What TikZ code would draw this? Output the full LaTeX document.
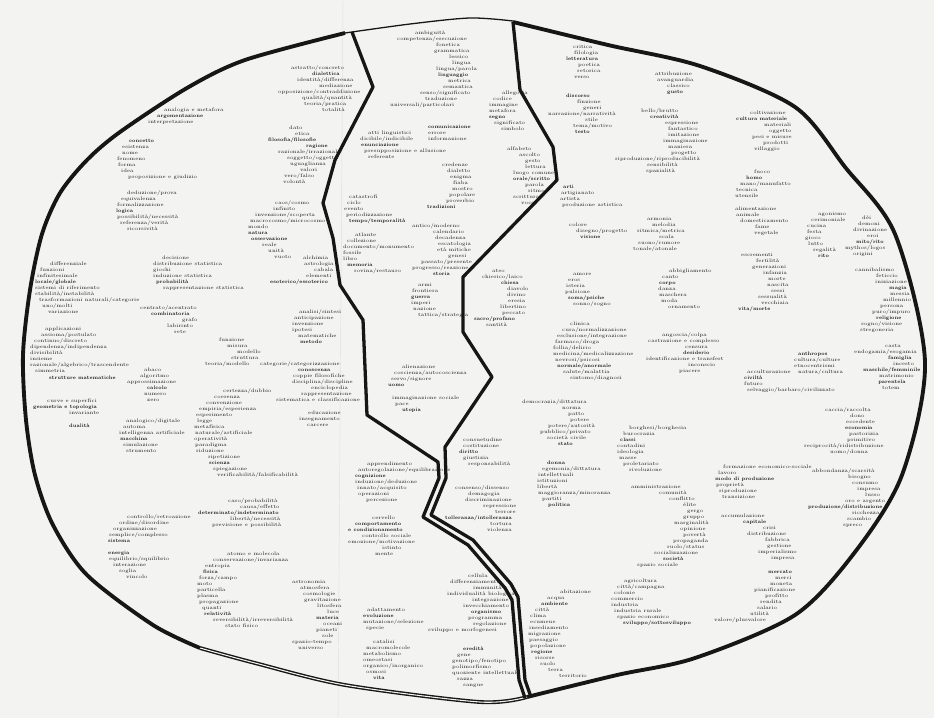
\documentclass[tikz,border=0pt]{standalone}
\usepackage{graphicx}
\definecolor{carta}{RGB}{243,243,241}
\definecolor{inchiostro}{RGB}{22,22,22}
\newdimen\pxu \pxu=0.03cm
\newcommand{\ri}[1]{\hspace*{#1\pxu}}
\newcommand{\lem}[1]{\scalebox{0.88}[1]{\bfseries #1}}
\tikzset{
  lemma/.style={font=\fontsize{4.3}{5.12}\selectfont, inner sep=0pt,
    align=left, anchor=north west, text=inchiostro},
  bordo/.style={inchiostro, line width=3.3pt, line join=round},
  confine/.style={inchiostro, line width=2.8pt, line join=round},
}
\begin{document}
\begin{tikzpicture}[x=0.03cm, y=-0.03cm]
  \useasboundingbox (0,0) rectangle (934,718);
  \fill[carta] (0,0) rectangle (934,718);
  \draw[black!12, line width=0.4pt] (343,0) -- (338,718); % piega

  % filosofia, logica, matematica
  \node[lemma] (argomentazione) at (148,108) {\ri{16}analogia e metafora\\\ri{9}\lem{argomentazione}\\interpretazione};
  \node[lemma] (concetto) at (117,139) {\ri{12}\lem{concetto}\\\ri{5}esistenza\\\ri{5}nome\\fenomeno\\\ri{1}forma\\\ri{4}idea\\\ri{11}proposizione e giudizio};
  \node[lemma] (logica) at (116,190) {\ri{11}deduzione/prova\\\ri{5}equivalenza\\\ri{1}formalizzazione\\\lem{logica}\\\ri{1}possibilità/necessità\\\ri{4}referenza/verità\\\ri{11}ricorsività};
  \node[lemma] (dialettica) at (278,65) {\ri{13}astratto/concreto\\\ri{34}\lem{dialettica}\\\ri{19}identità/differenza\\\ri{41}mediazione\\opposizione/contraddizione\\\ri{24}qualità/quantità\\\ri{26}teoria/pratica\\\ri{44}totalità};
  \node[lemma] (filosofia) at (268,126) {\ri{21}dato\\\ri{27}etica\\\lem{filosofia/filosofie}\\\ri{38}\lem{ragione}\\\ri{10}razionale/irrazionale\\\ri{19}soggetto/oggetto\\\ri{22}uguaglianza\\\ri{32}valori\\\ri{16}vero/falso\\\ri{15}volontà};
  \node[lemma] (natura) at (248,200) {\ri{27}caos/cosmo\\\ri{25}infinito\\\ri{7}invenzione/scoperta\\\ri{2}macrocosmo/microcosmo\\mondo\\\lem{natura}\\\ri{3}\lem{osservazione}\\\ri{14}reale\\\ri{20}unità\\\ri{26}vuoto};
  \node[lemma] (esoterico) at (270,256) {\ri{33}alchimia\\\ri{34}astrologia\\\ri{44}cabala\\\ri{36}elementi\\\lem{esoterico/essoterico}};
  \node[lemma] (metodo) at (292,309) {\ri{7}analisi/sintesi\\\ri{2}anticipazione\\invenzione\\ipotesi\\\ri{6}matematiche\\\ri{8}\lem{metodo}};
  \node[lemma] (conoscenza) at (260,361) {categorie/categorizzazione\\\ri{38}\lem{conoscenza}\\\ri{33}coppie filosofiche\\\ri{32}disciplina/discipline\\\ri{51}enciclopedia\\\ri{41}rappresentazione\\\ri{16}sistematica e classificazione};
  \node[lemma] (educazione) at (299,411) {\ri{9}educazione\\insegnamento\\\ri{8}carcere};
  \node[lemma] (funzione) at (205,338) {\ri{14}funzione\\\ri{22}misura\\\ri{32}modello\\\ri{26}struttura\\teoria/modello};
  \node[lemma] (scienza) at (194,388) {\ri{29}certezza/dubbio\\\ri{20}coerenza\\\ri{12}convenzione\\\ri{5}empiria/esperienza\\\ri{2}esperimento\\\ri{3}legge\\metafisica\\\ri{1}naturale/artificiale\\operatività\\\ri{1}paradigma\\\ri{2}riduzione\\\ri{14}ripetizione\\\ri{15}\lem{scienza}\\\ri{19}spiegazione\\\ri{23}verificabilità/falsificabilità};
  \node[lemma] (calcolo) at (127,368) {\ri{17}abaco\\\ri{13}algoritmo\\approssimazione\\\ri{20}\lem{calcolo}\\\ri{17}numero\\\ri{20}zero};
  \node[lemma] (macchina) at (119,418) {\ri{7}analogico/digitale\\\ri{4}automa\\intelligenza artificiale\\\ri{1}\lem{macchina}\\\ri{4}simulazione\\\ri{7}strumento};
  \node[lemma] (geometria) at (33,399) {\ri{14}curve e superfici\\\lem{geometria e topologia}\\\ri{36}invariante};
  \node[lemma] (dualita) at (69,424) {\lem{dualità}};
  \node[lemma] (strutture) at (30,327) {\ri{15}applicazioni\\\ri{11}assioma/postulato\\\ri{4}continuo/discreto\\dipendenza/indipendenza\\divisibilità\\insieme\\razionale/algebrico/trascendente\\\ri{5}simmetria\\[1pt]\ri{19}\lem{strutture matematiche}};
  \node[lemma] (locale) at (35,262) {\ri{15}differenziale\\\ri{5}funzioni\\\ri{2}infinitesimale\\\lem{locale/globale}\\sistemi di riferimento\\stabilità/instabilità\\\ri{4}trasformazioni naturali/categorie\\\ri{7}uno/molti\\\ri{13}variazione};
  \node[lemma] (probabilita) at (153,256) {\ri{9}decisione\\distribuzione statistica\\giochi\\induzione statistica\\\ri{3}\lem{probabilità}\\\ri{10}rappresentazione statistica};
  \node[lemma] (combinatoria) at (140,305) {centrato/acentrato\\\ri{11}\lem{combinatoria}\\\ri{42}grafo\\\ri{27}labirinto\\\ri{34}rete};

  % fisica, sistemi
  \node[lemma] (sistema) at (108,514) {\ri{19}controllo/retroazione\\\ri{11}ordine/disordine\\\ri{5}organizzazione\\\ri{1}semplice/complesso\\\lem{sistema}};
  \node[lemma] (energia) at (108,551) {\lem{energia}\\\ri{1}equilibrio/squilibrio\\\ri{5}interazione\\\ri{11}soglia\\\ri{18}vincolo};
  \node[lemma] (determinato) at (198,498) {\ri{30}caso/probabilità\\\ri{42}causa/effetto\\\lem{determinato/indeterminato}\\\ri{32}libertà/necessità\\\ri{14}previsione e possibilità};
  \node[lemma] (fisica) at (197,552) {\ri{30}atomo e molecola\\\ri{16}conservazione/invarianza\\\ri{8}entropia\\\ri{6}\lem{fisica}\\\ri{2}forza/campo\\moto\\particella\\plasma\\\ri{2}propagazione\\\ri{5}quanti\\\ri{7}\lem{relatività}\\\ri{16}reversibilità/irreversibilità\\\ri{28}stato fisico};
  \node[lemma] (materia) at (292,580) {astronomia\\\ri{8}atmosfera\\\ri{11}cosmologie\\\ri{12}gravitazione\\\ri{25}litosfera\\\ri{35}luce\\\ri{24}\lem{materia}\\\ri{31}oceani\\\ri{24}pianeti\\\ri{30}sole\\spazio-tempo\\\ri{6}universo};

  % linguaggio, storia
  \node[lemma] (linguaggio) at (390,31) {\ri{25}ambiguità\\\ri{7}competenza/esecuzione\\\ri{46}fonetica\\\ri{44}grammatica\\\ri{59}lessico\\\ri{62}lingua\\\ri{46}lingua/parola\\\ri{48}\lem{linguaggio}\\\ri{58}metrica\\\ri{53}semantica\\\ri{30}senso/significato\\\ri{35}traduzione\\universali/particolari};
  \node[lemma] (comunicazione) at (428,125) {\lem{comunicazione}\\errore\\informazione};
  \node[lemma] (enunciazione) at (360,131) {\ri{8}atti linguistici\\dicibile/indicibile\\\ri{1}\lem{enunciazione}\\\ri{4}presupposizione e allusione\\\ri{8}referente};
  \node[lemma] (tradizioni) at (427,163) {\ri{15}credenze\\\ri{20}dialetto\\\ri{23}enigma\\\ri{26}fiaba\\\ri{25}mostro\\\ri{22}popolare\\\ri{19}proverbio\\\lem{tradizioni}};
  \node[lemma] (tempo) at (344,195) {\ri{5}catastrofi\\\ri{3}ciclo\\evento\\\ri{2}periodizzazione\\\ri{5}\lem{tempo/temporalità}};
  \node[lemma] (memoria) at (343,233) {\ri{12}atlante\\\ri{4}collezione\\documento/monumento\\fossile\\libro\\\ri{4}\lem{memoria}\\\ri{11}rovina/restauro};
  \node[lemma] (storia) at (412,223) {antico/moderno\\\ri{21}calendario\\\ri{23}decadenza\\\ri{26}escatologia\\\ri{25}età mitiche\\\ri{36}genesi\\\ri{9}passato/presente\\progresso/reazione\\\ri{21}\lem{storia}};
  \node[lemma] (guerra) at (411,283) {\ri{7}armi\\\ri{1}frontiera\\\lem{guerra}\\imperi\\\ri{2}nazione\\\ri{7}tattica/strategia};
  \node[lemma] (uomo) at (388,365) {\ri{14}alienazione\\\ri{6}coscienza/autocoscienza\\\ri{3}servo/signore\\\lem{uomo}};
  \node[lemma] (utopia) at (392,396) {immaginazione sociale\\\ri{3}pace\\\ri{10}\lem{utopia}};
  \node[lemma] (segno) at (489,91) {\ri{13}allegoria\\\ri{4}codice\\immagine\\metafora\\\lem{segno}\\\ri{5}significato\\\ri{12}simbolo};
  \node[lemma] (orale) at (507,147) {alfabeto\\\ri{12}ascolto\\\ri{18}gesto\\\ri{18}lettura\\\ri{6}luogo comune\\\ri{6}\lem{orale/scritto}\\\ri{18}parola\\\ri{21}ritmo\\\ri{6}scrittura\\\ri{14}voce};

  % arti, religione, psiche
  \node[lemma] (sacro) at (474,269) {\ri{18}ateo\\\ri{8}chierico/laico\\\ri{27}\lem{chiesa}\\\ri{33}diavolo\\\ri{33}divino\\\ri{34}eresia\\\ri{26}libertino\\\ri{28}peccato\\\lem{sacro/profano}\\\ri{12}santità};
  \node[lemma] (arti) at (560,185) {\ri{3}\lem{arti}\\\ri{1}artigianato\\artista\\\ri{2}produzione artistica};
  \node[lemma] (letteratura) at (566,45) {\ri{7}critica\\\ri{8}filologia\\\lem{letteratura}\\\ri{12}poetica\\\ri{11}retorica\\\ri{8}verso};
  \node[lemma] (discorso) at (548,94) {\ri{18}\lem{discorso}\\\ri{29}finzione\\\ri{35}generi\\narrazione/narratività\\\ri{37}stile\\\ri{25}tema/motivo\\\ri{27}\lem{testo}};
  \node[lemma] (gusto) at (655,72) {attribuzione\\\ri{2}avanguardia\\\ri{12}classico\\\ri{12}\lem{gusto}};
  \node[lemma] (creativita) at (615,108) {\ri{26}bello/brutto\\\ri{35}\lem{creatività}\\\ri{50}espressione\\\ri{53}fantastico\\\ri{53}imitazione\\\ri{48}immaginazione\\\ri{53}maniera\\\ri{56}progetto\\riproduzione/riproducibilità\\\ri{32}sensibilità\\\ri{31}spazialità};
  \node[lemma] (visione) at (569,223) {colore\\\ri{7}disegno/progetto\\\ri{11}\lem{visione}};
  \node[lemma] (armonia) at (633,217) {\ri{14}armonia\\\ri{19}melodia\\\ri{4}ritmica/metrica\\\ri{26}scala\\\ri{5}suono/rumore\\tonale/atonale};
  \node[lemma] (psiche) at (565,273) {\ri{8}amore\\\ri{3}eros\\\ri{1}isteria\\pulsione\\\ri{3}\lem{soma/psiche}\\\ri{8}sonno/sogno};
  \node[lemma] (corpo) at (658,269) {\ri{11}abbigliamento\\\ri{4}canto\\\ri{1}\lem{corpo}\\danza\\\ri{1}maschera\\\ri{3}moda\\\ri{10}ornamento};
  \node[lemma] (normale) at (553,322) {\ri{17}clinica\\\ri{9}cura/normalizzazione\\\ri{4}esclusione/integrazione\\\ri{2}farmaco/droga\\follia/delirio\\medicina/medicalizzazione\\\ri{2}nevrosi/psicosi\\\ri{4}\lem{normale/anormale}\\\ri{10}salute/malattia\\\ri{17}sintomo/diagnosi};
  \node[lemma] (desiderio) at (646,332) {\ri{16}angoscia/colpa\\\ri{2}castrazione e complesso\\\ri{39}censura\\\ri{37}\lem{desiderio}\\identificazione e transfert\\\ri{42}inconscio\\\ri{33}piacere};

  % politica, societa
  \node[lemma] (stato) at (522,399) {democrazia/dittatura\\\ri{40}norma\\\ri{46}patto\\\ri{48}potere\\\ri{26}potere/autorità\\\ri{18}pubblico/privato\\\ri{25}società civile\\\ri{36}\lem{stato}};
  \node[lemma] (classi) at (617,425) {\ri{12}borghesi/borghesia\\\ri{6}burocrazia\\\ri{3}\lem{classi}\\contadini\\ideologia\\\ri{2}masse\\\ri{6}proletariato\\\ri{12}rivoluzione};
  \node[lemma] (diritto) at (459,438) {\ri{4}consuetudine\\\ri{4}costituzione\\\lem{diritto}\\\ri{4}giustizia\\\ri{9}responsabilità};
  \node[lemma] (politica) at (537,461) {\ri{10}\lem{donna}\\\ri{5}egemonia/dittatura\\\ri{1}intellettuali\\istituzioni\\libertà\\\ri{1}maggioranza/minoranza\\\ri{5}partiti\\\ri{11}\lem{politica}};
  \node[lemma] (tolleranza) at (445,485) {\ri{10}consenso/dissenso\\\ri{23}demagogia\\\ri{20}discriminazione\\\ri{38}repressione\\\ri{50}terrore\\\lem{tolleranza/intolleranza}\\\ri{45}tortura\\\ri{42}violenza};
  \node[lemma] (societa) at (631,485) {amministrazione\\\ri{28}comunità\\\ri{38}conflitto\\\ri{52}élite\\\ri{56}gergo\\\ri{52}gruppo\\\ri{43}marginalità\\\ri{49}opinione\\\ri{52}povertà\\\ri{42}propaganda\\\ri{36}ruolo/status\\\ri{23}socializzazione\\\ri{32}\lem{società}\\\ri{6}spazio sociale};
  \node[lemma] (sviluppo) at (611,579) {\ri{13}agricoltura\\\ri{6}città/campagna\\\ri{3}colonie\\commercio\\industria\\\ri{3}industria rurale\\\ri{6}spazio economico\\\ri{12}\lem{sviluppo/sottosviluppo}};
  \node[lemma] (ambiente) at (528,590) {\ri{32}abitazione\\\ri{19}acqua\\\ri{13}\lem{ambiente}\\\ri{7}città\\\ri{2}clima\\\ri{2}ecumene\\\ri{1}insediamento\\migrazione\\\ri{1}paesaggio\\\ri{2}popolazione\\\ri{3}\lem{regione}\\\ri{7}risorse\\\ri{12}suolo\\\ri{20}terra\\\ri{31}territorio};

  % vita, mente
  \node[lemma] (eredita) at (452,647) {\ri{11}\lem{eredità}\\\ri{5}gene\\genotipo/fenotipo\\polimorfismo\\quoziente intellettuale\\\ri{5}razza\\\ri{11}sangue};
  \node[lemma] (organismo) at (428,574) {\ri{40}cellula\\\ri{22}differenziamento\\\ri{45}immunità\\\ri{19}individualità biologica\\\ri{44}integrazione\\\ri{35}invecchiamento\\\ri{43}\lem{organismo}\\\ri{40}programma\\\ri{45}regolazione\\sviluppo e morfogenesi};
  \node[lemma] (cognizione) at (355,462) {\ri{12}apprendimento\\\ri{3}autoregolazione/equilibrazione\\\lem{cognizione}\\induzione/deduzione\\\ri{2}innato/acquisito\\\ri{3}operazioni\\\ri{11}percezione};
  \node[lemma] (comportamento) at (348,516) {\ri{24}cervello\\\ri{7}\lem{comportamento}\\\lem{e condizionamento}\\\ri{14}controllo sociale\\emozione/motivazione\\\ri{34}istinto\\\ri{27}mente};
  \node[lemma] (evoluzione) at (363,608) {\ri{4}adattamento\\\lem{evoluzione}\\mutazione/selezione\\\ri{3}specie};
  \node[lemma] (vita) at (363,640) {\ri{10}catalisi\\\ri{3}macromolecole\\metabolismo\\omeostasi\\organico/inorganico\\\ri{3}osmosi\\\ri{10}\lem{vita}};

  % antropologia, economia
  \node[lemma] (cultura) at (736,111) {\ri{14}coltivazione\\\lem{cultura materiale}\\\ri{28}materiali\\\ri{33}oggetto\\\ri{16}pesi e misure\\\ri{27}prodotti\\\ri{18}villaggio};
  \node[lemma] (homo) at (735,170) {\ri{19}fuoco\\\ri{11}\lem{homo}\\\ri{5}mano/manufatto\\\ri{1}tecnica\\utensile};
  \node[lemma] (alimentazione) at (735,207) {alimentazione\\\ri{1}animale\\\ri{5}domesticamento\\\ri{20}fame\\\ri{19}vegetale};
  \node[lemma] (rito) at (805,212) {\ri{13}agonismo\\\ri{6}cerimoniale\\\ri{2}cucina\\\ri{2}festa\\gioco\\\ri{3}lutto\\\ri{8}regalità\\\ri{13}\lem{rito}};
  \node[lemma] (mito) at (845,216) {\ri{17}dèi\\\ri{13}demoni\\\ri{8}divinazione\\\ri{22}eroi\\\ri{11}\lem{mito/rito}\\mythos/logos\\\ri{8}origini};
  \node[lemma] (religione) at (855,268) {cannibalismo\\\ri{21}feticcio\\\ri{20}iniziazione\\\ri{34}\lem{magia}\\\ri{35}messia\\\ri{28}millennio\\\ri{25}persona\\\ri{17}puro/impuro\\\ri{21}\lem{religione}\\\ri{6}sogno/visione\\\ri{5}stregoneria};
  \node[lemma] (parentela) at (854,344) {\ri{31}casta\\endogamia/esogamia\\\ri{34}\lem{famiglia}\\\ri{39}incesto\\\ri{9}\lem{maschile/femminile}\\\ri{25}matrimonio\\\ri{24}\lem{parentela}\\\ri{28}totem};
  \node[lemma] (vitamorte) at (738,253) {\ri{3}escrementi\\\ri{18}fertilità\\\ri{14}generazioni\\\ri{25}infanzia\\\ri{30}morte\\\ri{29}nascita\\\ri{33}sessi\\\ri{20}sessualità\\\ri{23}vecchiaia\\\lem{vita/morte}};
  \node[lemma] (anthropos) at (794,352) {\ri{4}\lem{anthropos}\\cultura/culture\\etnocentrismi\\\ri{4}natura/cultura};
  \node[lemma] (civilta) at (744,370) {\ri{3}acculturazione\\\lem{civiltà}\\futuro\\\ri{3}selvaggio/barbaro/civilizzato};
  \node[lemma] (economia) at (804,407) {\ri{21}caccia/raccolta\\\ri{46}dono\\\ri{42}eccedente\\\ri{41}\lem{economia}\\\ri{45}pastorizia\\\ri{43}primitivo\\reciprocità/ridistribuzione\\\ri{26}uomo/donna};
  \node[lemma] (produzione) at (808,468) {\ri{4}abbondanza/scarsità\\\ri{40}bisogno\\\ri{44}consumo\\\ri{49}impresa\\\ri{57}lusso\\\ri{37}oro e argento\\\lem{produzione/distribuzione}\\\ri{44}ricchezza\\\ri{39}scambio\\\ri{35}spreco};
  \node[lemma] (modo) at (715,465) {\ri{8}formazione economico-sociale\\\ri{3}lavoro\\\lem{modo di produzione}\\\ri{1}proprietà\\\ri{4}riproduzione\\\ri{7}transizione};
  \node[lemma] (capitale) at (721,514) {accumulazione\\\ri{22}\lem{capitale}\\\ri{42}crisi\\\ri{26}distribuzione\\\ri{44}fabbrica\\\ri{46}gestione\\\ri{37}imperialismo\\\ri{50}impresa};
  \node[lemma] (mercato) at (714,570) {\ri{54}\lem{mercato}\\\ri{61}merci\\\ri{56}moneta\\\ri{40}pianificazione\\\ri{51}profitto\\\ri{46}rendita\\\ri{43}salario\\\ri{36}utilità\\valore/plusvalore};

  % contorno
  \draw[bordo] plot[smooth] coordinates {(513,22) (608,45) (700,66) (795,107) (845,167) (895,234)
    (925,362) (902,475) (855,552) (795,615) (695,658) (617,675) (527,697)};
  \draw[inchiostro, line width=1.2pt, double=carta, double distance=0.9pt] plot[smooth] coordinates {(527,697) (480,702) (345,685) (255,663) (200,648)};
  \draw[bordo] plot[smooth] coordinates {(200,648) (153,625) (87,575) (53,525) (35,475) (26,420) (23,355)
    (30,290) (42,234) (60,193) (87,160) (120,132) (187,88) (245,60) (345,33)};
  \draw[inchiostro, line width=1.1pt] plot[smooth] coordinates {(345,33) (410,24) (470,18) (513,21)};

  % confini
  \draw[confine] (352,32) -- (373,87) -- (335,160) -- (323,203) -- (333,238) -- (340,285) -- (363,320)
    -- (367,415) -- (438,462) -- (439,478) -- (423,517) -- (468,545) -- (505,588) -- (512,600)
    -- (519,680) -- (525,698);
  \draw[confine] (513,22) -- (520,90) -- (553,147) -- (557,180) -- (463,277) -- (463,332) -- (492,377)
    -- (445,447) -- (446,478) -- (431,515) -- (473,540) -- (511,584) -- (518,597) -- (525,680)
    -- (531,697);
\end{tikzpicture}
\end{document}
